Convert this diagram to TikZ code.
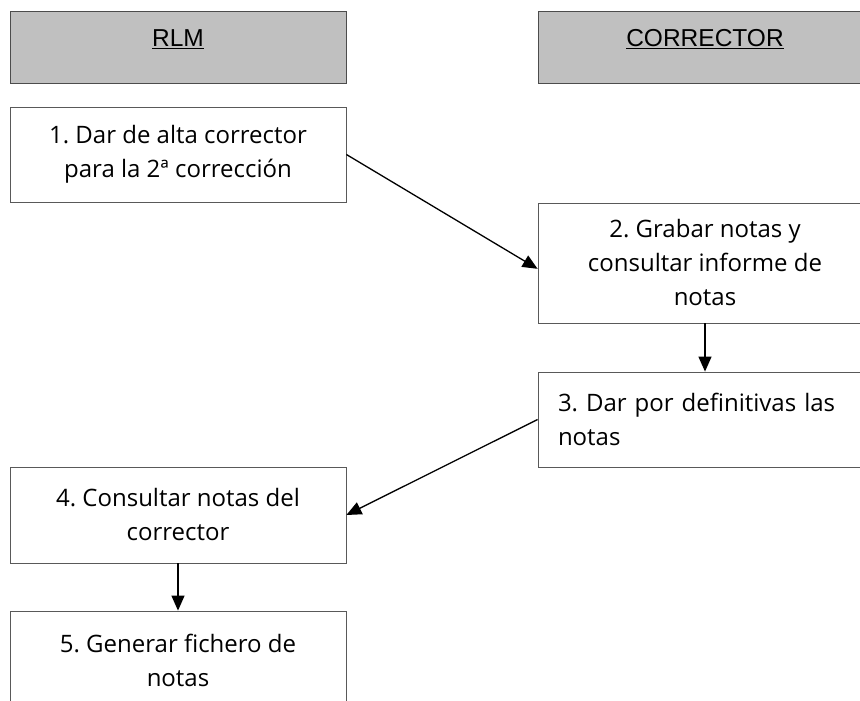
\documentclass[tikz,border=0pt]{standalone}
\usepackage{fontspec}
\setmainfont{Open Sans}
\newfontfamily\headfont{Liberation Sans}
\usetikzlibrary{arrows.meta}
\frenchspacing

\definecolor{headgray}{HTML}{C0C0C0}
\tikzstyle{HeadStyle}=[rectangle, draw=black!70, fill=headgray, line width=0.8pt,
  inner sep=0pt, text height=36pt, text depth=36pt,
  font=\headfont\fontsize{24.5}{28}\selectfont]
\tikzstyle{StepStyle}=[rectangle, draw=black!65, line width=0.8pt, fill=white,
  align=center, inner sep=0pt, font=\fontsize{24}{34}\selectfont]
\tikzstyle{EdgeStyle}=[line width=1.3pt, -{Triangle[length=15pt,width=13pt]}]

\begin{document}
\begin{tikzpicture}[x=1pt,y=1pt]
	\useasboundingbox (0,0) rectangle (860,701);
	\clip (0,0) rectangle (860,701);
	% lanes
	\node[HeadStyle, minimum width=336pt] (RLM) at (178,654) {\underline{RLM}};
	\node[HeadStyle, minimum width=334pt] (COR) at (705,654) {\underline{CORRECTOR}};
	% steps
	\node[StepStyle, minimum width=336pt, minimum height=95pt] (S1) at (178,546.5)
		{1. Dar de alta corrector\\para la 2ª corrección};
	\node[StepStyle, minimum width=334pt, minimum height=120pt] (S2) at (705,438)
		{2. Grabar notas y\\consultar informe de\\notas};
	\node[StepStyle, align=left, text width=294pt, inner xsep=20pt,
		minimum height=95pt] (S3) at (705,281.5)
		{3. Dar por definitivas las\\notas};
	\node[StepStyle, minimum width=336pt, minimum height=96pt] (S4) at (178,186)
		{4. Consultar notas del\\corrector};
	\node[StepStyle, minimum width=336pt, minimum height=98pt] (S5) at (178,41)
		{5. Generar fichero de\\notas};
	% flow
	\draw[EdgeStyle] (S1.east) -- (S2.182);
	\draw[EdgeStyle] (S2.south) -- (S3.north);
	\draw[EdgeStyle] (S3.west) -- (S4.east);
	\draw[EdgeStyle] (S4.south) -- (S5.north);
\end{tikzpicture}
\end{document}
